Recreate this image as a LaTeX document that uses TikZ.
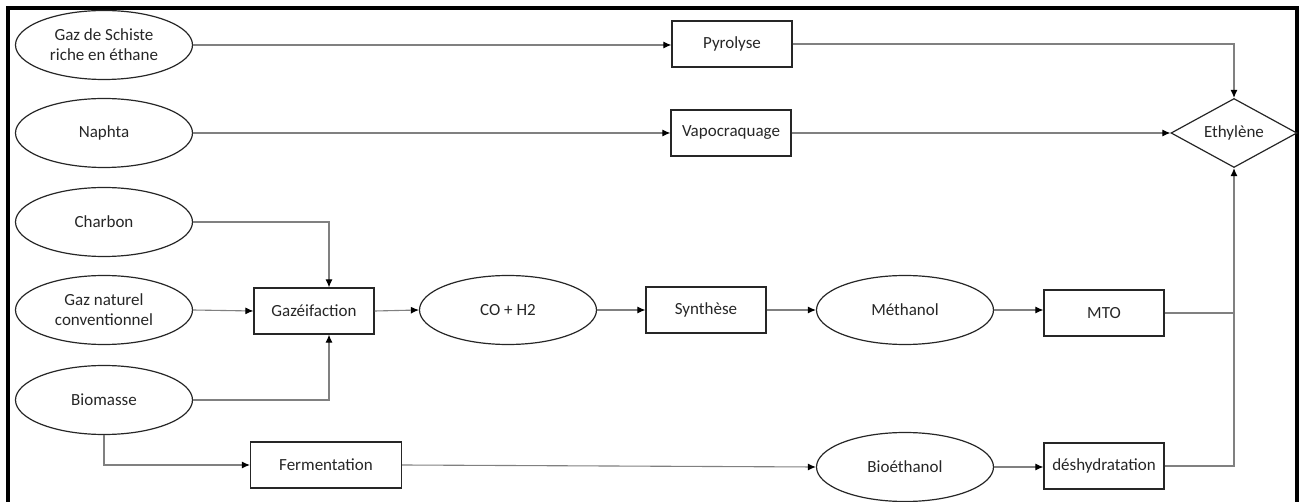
\documentclass[tikz,border=0pt]{standalone}
\usepackage{fontspec}
\setmainfont{Carlito}
\usetikzlibrary{shapes.geometric,arrows.meta}
\begin{document}
\begin{tikzpicture}[x=1pt,y=-1pt,
 font=\fontsize{17}{20}\selectfont,
 src/.style={ellipse,draw=black!85,line width=1.2pt,minimum width=177pt,minimum height=69pt,inner sep=0pt,align=center,text=black!85},
 proc/.style={rectangle,draw=black!85,line width=1.2pt,minimum width=120pt,minimum height=46pt,inner sep=0pt,align=center,text=black!85},
 conn/.style={draw=black!50,line width=1.1pt},
 arr/.style={conn,-{Latex[length=8pt,width=7pt,color=black]}},
]
\useasboundingbox (0,0) rectangle (1304,502);
\draw[line width=4pt] (8,502) -- (8,8) -- (1297,8) -- (1297,502);

% sources
\node[src] (schiste) at (104,45) {Gaz de Schiste\\riche en éthane};
\node[src] (naphta) at (104,133) {Naphta};
\node[src] (charbon) at (104,222) {Charbon};
\node[src] (gaznat) at (104,310) {Gaz naturel\\conventionnel};
\node[src] (biomasse) at (104,400) {Biomasse};

% processes
\node[proc] (pyro) at (732,44) {Pyrolyse};
\node[proc] (vapo) at (731,133) {Vapocraquage};
\node[proc] (gazei) at (314,311) {Gazéifaction};
\node[src] (co) at (508,310) {CO + H2};
\node[proc] (synth) at (706,310) {Synthèse};
\node[src] (meth) at (905,310) {Méthanol};
\node[proc] (mto) at (1104,313) {MTO};
\node[proc,minimum width=151pt] (ferm) at (326,465) {Fermentation};
\node[src] (bioeth) at (905,467) {Bioéthanol};
\node[proc] (desh) at (1104,466) {déshydratation};

\node[diamond,draw=black!85,line width=1.2pt,minimum width=126pt,minimum height=69pt,inner sep=0pt,aspect=1.83,text=black!85] (eth) at (1234,133) {Ethylène};

\coordinate (jx) at (329,0);

% connectors
\draw[arr] (schiste.east) -- (pyro.west |- schiste.east);
\draw[arr] (pyro.east) -| (eth.north);
\draw[arr] (naphta.east) -- (vapo.west);
\draw[arr] (vapo.east) -- (eth.west);
\draw[arr] (charbon.east) -| (jx |- gazei.north);
\draw[arr] (gaznat.east) -- (gazei.west);
\draw[arr] (biomasse.east) -| (jx |- gazei.south);
\draw[arr] (biomasse.south) |- (ferm.west);
\draw[arr] (gazei.east) -- (co.west);
\draw[arr] (co.east) -- (synth.west);
\draw[arr] (synth.east) -- (meth.west);
\draw[arr] (meth.east) -- (mto.west |- meth.east);
\draw[conn] (mto.east) -- (mto.east -| eth.south);
\draw[arr] (ferm.east) -- (bioeth.west);
\draw[arr] (bioeth.east) -- (desh.west |- bioeth.east);
\draw[arr] (desh.east) -| (eth.south);
\end{tikzpicture}
\end{document}
